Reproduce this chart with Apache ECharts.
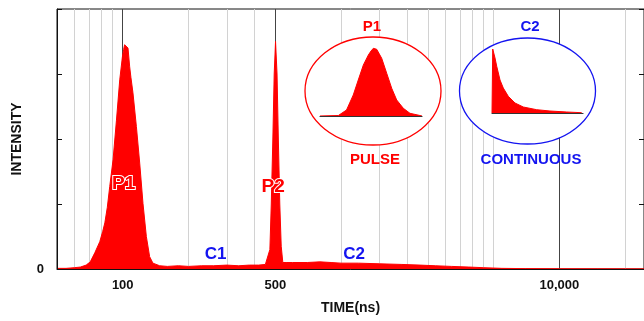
<!DOCTYPE html>
<html>
<head>
<meta charset="utf-8">
<script src="https://cdn.jsdelivr.net/npm/echarts@6/dist/echarts.min.js"></script>
<style>
html, body { margin: 0; padding: 0; background: #fff; }
#chart { width: 644px; height: 321px; }
</style>
</head>
<body>
<div id="chart"></div>
<script>
// main spectrum: [time (ns), intensity]
const spectrum = [
    [50, 0.01], [55, 0.01], [60, 0.02], [64, 0.03], [68, 0.06], [71, 0.11], [74.5, 0.25],
    [78.5, 0.42], [81, 0.58], [82.8, 0.71], [85, 0.95], [87.2, 1.27], [90.3, 1.68],
    [93.6, 2.29], [96.9, 2.91], [99.7, 3.27], [101, 3.38], [102, 3.45], [104, 3.43],
    [105.7, 3.40], [107.6, 3.11], [109, 2.95], [111.4, 2.71], [115.5, 2.19], [119.6, 1.63],
    [123.8, 1.01], [128.3, 0.50], [132.8, 0.19], [137.5, 0.09], [147.6, 0.05], [160, 0.04],
    [180, 0.05], [200, 0.04], [230, 0.05], [260, 0.05], [300, 0.06], [340, 0.05], [380, 0.06],
    [420, 0.06], [450, 0.07], [459, 0.08], [472, 0.3], [479, 1.0], [487, 2.0], [494, 3.0],
    [501, 3.5], [509, 3.0], [516, 2.0], [524, 1.0], [532, 0.35], [541, 0.1], [560, 0.1],
    [600, 0.1], [700, 0.1], [800, 0.11], [900, 0.1], [1000, 0.09], [1200, 0.09], [1500, 0.08],
    [1900, 0.07], [2300, 0.06], [2700, 0.05], [3200, 0.04], [3850, 0.03], [4500, 0.02],
    [5450, 0.01], [7000, 0.006], [10000, 0.004], [15000, 0.003], [24400, 0.003]
]

// inset shapes (arbitrary units)
const pulseInset = [
    [0, 0], [18, 0.5], [26, 6], [32.6, 21], [37.5, 36], [42.5, 51], [47.4, 61], [50, 65],
    [52.3, 67.7], [55.6, 66.7], [60.5, 57.7], [65.4, 42.7], [70.3, 27.7], [75.2, 16],
    [81.7, 7.7], [88.2, 2.7], [98, 0.5], [100, 0]
]
const continuousInset = [
    [0, 0], [0.8, 64], [1.4, 64], [3.3, 55], [5.2, 46.7], [8.8, 33], [12.4, 25], [17.9, 16.7],
    [25.3, 10], [34.4, 6], [49.1, 3.3], [63.7, 2], [82.1, 1], [98.6, 0.3]
]

const lightLines = [60, 70, 80, 90, 200, 300, 400, 1000, 1500, 2000, 2500, 3000, 3500, 4000, 4500, 5000, 20000]
const darkLines = [100, 500, 10000]
const xLabels = [100, 500, 10000]

const peakLabels = [
    { name: 'P1', coord: [101, 1.31] },
    { name: 'P2', coord: [489, 1.26] }
]
const contLabels = [
    { name: 'C1', coord: [266, 0.23] },
    { name: 'C2', coord: [1147, 0.23] }
]

const RED = '#ff0000'
const BLUE = '#1414f0'
const FONT = 'Liberation Sans, Arial, sans-serif'

const chart = echarts.init(document.getElementById('chart'))

chart.setOption({
    animation: false,
    grid: [
        { left: 57, top: 9, width: 589, height: 260, show: true, borderColor: '#111', borderWidth: 1 },
        { left: 320, top: 44, width: 102, height: 72 },
        { left: 492, top: 44, width: 91, height: 69 }
    ],
    xAxis: [
        {
            type: 'log',
            gridIndex: 0,
            min: 50,
            max: 24400,
            z: 10,
            name: 'TIME(ns)',
            nameLocation: 'middle',
            nameGap: 32,
            nameTextStyle: { color: '#111', fontSize: 14, fontWeight: 'bold', fontFamily: FONT },
            axisLine: { show: true, lineStyle: { color: '#111', width: 1 } },
            axisTick: { show: false },
            splitLine: { show: false },
            axisLabel: {
                customValues: xLabels,
                margin: 10,
                color: '#111',
                fontSize: 13,
                fontWeight: 'bold',
                fontFamily: FONT,
                formatter: v => Math.round(v).toLocaleString('en-US')
            }
        },
        {
            type: 'value', gridIndex: 1, min: 0, max: 100, z: 61,
            axisLine: { show: true, lineStyle: { color: '#333', width: 1.2 } },
            axisTick: { show: false }, axisLabel: { show: false }, splitLine: { show: false }
        },
        {
            type: 'value', gridIndex: 2, min: 0, max: 100, z: 61,
            axisLine: { show: true, lineStyle: { color: '#333', width: 1.2 } },
            axisTick: { show: false }, axisLabel: { show: false }, splitLine: { show: false }
        }
    ],
    yAxis: [
        {
            type: 'value',
            gridIndex: 0,
            min: 0,
            max: 4,
            interval: 1,
            z: 10,
            name: 'INTENSITY',
            nameLocation: 'middle',
            nameGap: 33,
            nameTextStyle: { color: '#111', fontSize: 14, fontWeight: 'bold', fontFamily: FONT },
            axisLine: { show: true, lineStyle: { color: '#111', width: 1 } },
            axisTick: { show: true, inside: true, length: 5, lineStyle: { color: '#111' } },
            splitLine: { show: false },
            axisLabel: {
                margin: 13,
                color: '#111',
                fontSize: 13,
                fontWeight: 'bold',
                fontFamily: FONT,
                formatter: v => (v === 0 ? '0' : '')
            }
        },
        {
            type: 'value', gridIndex: 0, min: 0, max: 4, interval: 1, position: 'right',
            axisLine: { show: false },
            axisTick: { show: true, inside: true, length: 5, lineStyle: { color: '#111' } },
            axisLabel: { show: false }, splitLine: { show: false }
        },
        { type: 'value', gridIndex: 1, min: 0, max: 72, show: false },
        { type: 'value', gridIndex: 2, min: 0, max: 69, show: false }
    ],
    graphic: [
        { type: 'ellipse', z: 50, shape: { cx: 373, cy: 91, rx: 68, ry: 54 }, style: { fill: '#fff', stroke: RED, lineWidth: 1.3 } },
        { type: 'ellipse', z: 50, shape: { cx: 527.5, cy: 91, rx: 68, ry: 53 }, style: { fill: '#fff', stroke: BLUE, lineWidth: 1.3 } },
        { type: 'text', z: 50, x: 372, y: 27, style: { text: 'P1', fill: RED, font: 'bold 15px ' + FONT, textAlign: 'center', textVerticalAlign: 'middle' } },
        { type: 'text', z: 50, x: 375, y: 160, style: { text: 'PULSE', fill: RED, font: 'bold 15px ' + FONT, textAlign: 'center', textVerticalAlign: 'middle' } },
        { type: 'text', z: 50, x: 530, y: 27, style: { text: 'C2', fill: BLUE, font: 'bold 15px ' + FONT, textAlign: 'center', textVerticalAlign: 'middle' } },
        { type: 'text', z: 50, x: 531, y: 160, style: { text: 'CONTINUOUS', fill: BLUE, font: 'bold 15px ' + FONT, textAlign: 'center', textVerticalAlign: 'middle' } }
    ],
    series: [
        {
            type: 'line',
            xAxisIndex: 0,
            yAxisIndex: 0,
            data: spectrum,
            z: 3,
            showSymbol: false,
            lineStyle: { color: RED, width: 1 },
            areaStyle: { color: RED, opacity: 1 },
            markLine: {
                z: 1,
                silent: true,
                symbol: ['none', 'none'],
                label: { show: false },
                data: [
                    ...lightLines.map(v => ({ xAxis: v, lineStyle: { color: '#d2d2d2', width: 1, type: 'solid' } })),
                    ...darkLines.map(v => ({ xAxis: v, lineStyle: { color: '#444', width: 1, type: 'solid' } }))
                ]
            },
            markPoint: {
                silent: true,
                symbol: 'circle',
                symbolSize: 1,
                itemStyle: { color: 'rgba(0,0,0,0)' },
                data: [
                    ...peakLabels.map(p => ({
                        coord: p.coord,
                        label: {
                            show: true, position: 'inside', formatter: p.name, color: RED,
                            fontSize: 19, fontWeight: 'bold', fontFamily: FONT,
                            textBorderColor: '#fff', textBorderWidth: 2
                        }
                    })),
                    ...contLabels.map(p => ({
                        coord: p.coord,
                        label: {
                            show: true, position: 'inside', formatter: p.name, color: BLUE,
                            fontSize: 17, fontWeight: 'bold', fontFamily: FONT
                        }
                    }))
                ]
            }
        },
        {
            type: 'line', xAxisIndex: 1, yAxisIndex: 2, data: pulseInset, z: 60,
            showSymbol: false, lineStyle: { color: RED, width: 1 }, areaStyle: { color: RED, opacity: 1 }
        },
        {
            type: 'line', xAxisIndex: 2, yAxisIndex: 3, data: continuousInset, z: 60,
            showSymbol: false, lineStyle: { color: RED, width: 1 }, areaStyle: { color: RED, opacity: 1 }
        }
    ]
})

window.addEventListener('resize', () => chart.resize())
</script>
</body>
</html>
